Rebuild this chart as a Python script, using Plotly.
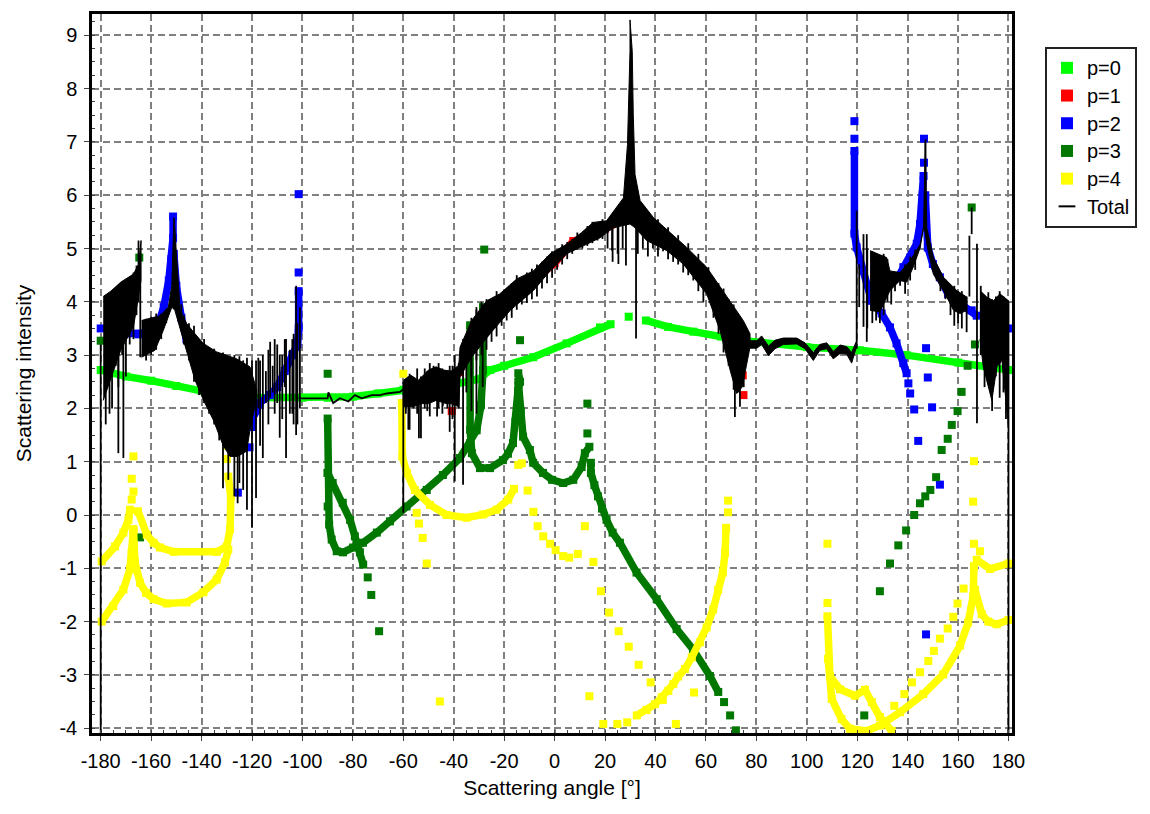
import plotly.graph_objects as go

# p=0
p0_x = [-180,-170,-160,-150,-140,-132,-120,-100,-90,-80,-70,-60,-50,-40,-30,-25.6,-20,-8.5,4.8,18,22.2,None,29.4,None,36.2,45,55,66,75,100,121,139.6,160,180]
p0_y = [2.72,2.6,2.52,2.42,2.33,2.25,2.2,2.2,2.2,2.22,2.28,2.35,2.4,2.45,2.55,2.72,2.8,2.96,3.22,3.52,3.58,None,3.72,None,3.65,3.53,3.44,3.35,3.27,3.15,3.09,3.0,2.86,2.72]
# p=1
p1_x = [-40.8,None,-37.5,None,-34.5,-30,-20,-10,0,7.4,12.7,20,25,30,40,50,60,65,70,None,74.6,None,74.9]
p1_y = [1.95,None,2.68,None,3.03,3.55,3.95,4.35,4.72,5.14,5.21,5.37,5.5,5.6,5.32,4.92,4.38,3.95,3.2,None,2.62,None,2.25]
# p=2
p2_x = [-180,None,-175,-165,-160,-157,-155,-153,-152,-151.3,-151.3,None,-151,-150,-148,-146,-143,-139,None,-125.6,None,-121,None,-120,-119.6,-118,-117,-113,-110,-107,-104,-102,-101.5,-101.5,None,-101.5,None,-101.5,None,
        118.9,None,118.9,None,118.9,118.9,119.8,122.3,125.7,129.7,133,135.6,138.3,139.6,None,140.3,None,141,None,142.6,None,144.2,None,
        136.2,138.3,141,143.6,144.9,146,146.3,None,146.5,None,146.5,None,147,148,150,152.8,156,159.4,165.4,167.4,None,180,None,147.3,None,148,None,149.7,None,152.8,None,147.3]
p2_y = [3.5,None,3.39,3.39,3.42,3.6,3.9,4.4,4.8,5.2,5.6,None,4.9,4.3,3.7,3.3,3.0,2.7,None,0.42,None,1.27,None,1.65,1.83,1.97,2.1,2.25,2.4,2.7,3.0,3.2,3.5,4.2,None,4.55,None,6.02,None,
        7.39,None,7.06,None,6.83,5.28,5.02,4.58,4.02,3.78,3.52,3.22,2.85,2.66,None,2.47,None,2.28,None,1.98,None,1.39,None,
        4.46,4.65,4.83,5.09,5.46,6.0,6.36,None,6.61,None,7.06,None,6.0,5.02,4.71,4.46,4.15,4.02,3.84,3.74,None,3.5,None,3.13,None,2.58,None,2.02,None,0.57,None,-2.24]
# p=3
p3_x = [-90,None,-90,-90,-90,-89.4,-88.4,-86.4,-83.9,-79.9,-76,-70.5,-65.3,-58.7,-50.7,-44.3,-37.5,-33.5,-30.9,-29.2,-28.4,-28.4,None,
        -90,-88,-84,-81.1,-79.2,-77.2,-75.9,None,-74.1,None,-72.7,None,-69.6,None,
        -13.7,None,-14.4,-13.7,-14.5,-15.5,-16.5,-18.5,-20.5,-25.6,-29.6,-32.8,-33.5,-33.5,-33.5,None,
        -14.4,-13.4,-12.5,-9.8,-8.5,-4.6,-1,3.4,7.4,10.7,12,13.8,None,13,None,13,None,
        14.4,14.4,15.8,17.2,18.8,20.6,23,25.9,32.5,40.5,48.4,54.9,61.6,64.9,None,67.2,None,69.6,None,71.9,None,
        -27.9,None,-164.7,None,-180,None,-164.4,None,165.4,None,166.7,None,163.8,None,161.4,None,159.8,None,157.5,None,155.9,None,153.5,None,151.3,None,149,None,147,None,144.9,None,142.6,None,139.4,None,136.3,None,133,None,129,None,122.8]
p3_y = [2.65,None,1.81,0.79,0.16,-0.18,-0.46,-0.68,-0.7,-0.61,-0.52,-0.33,-0.12,0.16,0.47,0.75,1.07,1.35,1.59,2.06,2.72,3.9,None,
        0.79,0.6,0.23,-0.09,-0.4,-0.7,-0.93,None,-1.17,None,-1.5,None,-2.18,None,
        3.28,None,2.66,2.5,2.34,1.75,1.35,1.15,1.03,0.88,0.88,1.16,1.6,2.53,3.56,None,
        2.5,1.95,1.47,1.22,0.98,0.79,0.66,0.6,0.66,0.9,1.16,1.28,None,1.53,None,2.09,None,
        0.98,0.79,0.56,0.35,0.12,-0.09,-0.33,-0.52,-1.08,-1.58,-2.14,-2.52,-3.02,-3.32,None,-3.51,None,-3.76,None,-4.04,None,
        4.98,None,4.83,None,3.27,None,-0.42,None,5.77,None,3.2,None,2.8,None,2.31,None,1.95,None,1.69,None,1.43,None,1.22,None,0.71,None,0.47,None,0.35,None,0.22,None,0,None,-0.29,None,-0.57,None,-0.91,None,-1.43,None,-3.76]
# p=4
p4_x = [-167,None,-167.7,None,-167,None,-167.7,None,-179.6,-174.3,-171,-169,-168.4,None,-165.2,-161.7,-159,-156.5,-151,-134,-130,-128.7,-128.4,-129.4,None,-130,None,-130,None,-130,None,
        -179.6,-175,-171,-168.4,-167.7,-167,None,-167,-166.4,-164.4,-162,-159,-153.8,-145.9,-139.3,-134,-130.7,-129.4,None,
        -60,None,-60.6,-60.4,-58.6,-55.4,-49.4,-42.8,-34.9,-28.3,-23,-18.4,-16.1,None,-14.4,None,-13,None,-10.7,None,-8.4,None,-6.7,None,-4.5,None,-1.8,None,0.4,None,3.4,None,5.8,None,9.2,None,12,None,15.4,None,18.4,None,21.6,None,25.4,None,29.4,None,33.3,None,38.1,None,42.9,None,13.8,None,48.1,None,55.3,None,-45.5,None,-54.7,None,-53.8,None,-52.3,None,-50.7,None,
        19.3,None,24.9,None,28.8,None,32.6,36.5,39.8,42.5,45.1,47.1,49,51.7,54.4,57.7,60.3,62.9,64.9,66.7,67.6,68,None,68.8,None,68.8,None,
        108.2,None,108.2,None,108.2,108.5,109.2,113.2,119.1,123.1,125.8,129,133.7,None,108.5,109.9,113.8,117.1,123.8,129,137,146.2,154.1,160.8,164,166,166.3,None,166.7,169.4,172,175.3,180,None,167.4,172.7,180,None,
        166.3,None,168.7,None,166,None,166.3,None,162.2,None,159.8,None,158.1,None,155.9,None,152.8,None,150.4,None,148.2,None,144.9,None,141.7,None,138.7,None,134.7]
p4_y = [1.1,None,0.68,None,0.44,None,0.29,None,-0.87,-0.59,-0.33,-0.09,0.1,None,0.07,-0.37,-0.52,-0.61,-0.69,-0.69,-0.59,-0.27,0.35,0.72,None,1.05,None,1.3,None,1.6,None,
        -2.0,-1.71,-1.4,-1.02,-0.7,-0.27,None,-0.27,-0.89,-1.27,-1.46,-1.58,-1.66,-1.64,-1.45,-1.21,-0.89,-0.65,None,
        2.65,None,2.1,1.1,0.79,0.47,0.19,0.0,-0.05,0.01,0.1,0.29,0.49,None,0.94,None,0.97,None,0.46,None,0.06,None,-0.21,None,-0.4,None,-0.54,None,-0.66,None,-0.77,None,-0.8,None,-0.73,None,-0.21,None,-0.88,None,-1.43,None,-1.83,None,-2.18,None,-2.47,None,-2.81,None,-3.14,None,-3.47,None,-3.4,None,-3.92,None,-3.33,None,-3.5,None,0.04,None,-0.16,None,-0.43,None,-0.91,None,
        -3.92,None,-3.92,None,-3.89,None,-3.76,-3.66,-3.55,-3.42,-3.3,-3.17,-3.03,-2.89,-2.67,-2.39,-2.11,-1.77,-1.4,-1.08,-0.71,-0.24,None,0.05,None,0.27,None,
        -0.54,None,-1.65,None,-1.9,-2.7,-3.02,-3.27,-3.39,-3.28,-3.51,-3.79,-4.05,None,-2.7,-3.45,-3.83,-4.01,-4.05,-3.95,-3.7,-3.36,-2.99,-2.45,-2.02,-1.52,-0.96,None,-1.4,-1.86,-2.0,-2.05,-1.97,None,-0.84,-1.01,-0.91,None,
        -0.54,None,-0.68,None,0.25,None,1.01,None,-1.38,None,-1.66,None,-1.91,None,-2.13,None,-2.32,None,-2.55,None,-2.74,None,-2.95,None,-3.14,None,-3.36,None,-3.58]

# Total: outline of the dense black region, section by section (upper edge, lower edge)
sec_a_ux = [-179,-176,-172,-167,-165,-164]
sec_a_uy = [4.1,4.2,4.37,4.52,4.7,5.15]
sec_a_lx = [-179,-172,-167,-164]
sec_a_ly = [2.15,3.1,3.53,4.4]

sec_b_ux = [-163.8,-156.4,-153.2,-151.8,-151,-150.9,-148.5,-145.9,-142.6,-139.3,-134,-126.1,-120.8,-118.1]
sec_b_uy = [3.65,3.74,3.9,4.3,5.58,5.58,3.84,3.59,3.4,3.22,3.06,2.93,2.78,2.34]
sec_b_lx = [-163.8,-158.5,-155.2,-151.8,-150.6,-145.9,-142.6,-139.3,-135.3,-131.4,-128.7,-125.7,-122.1,-120.8,-118.1]
sec_b_ly = [2.96,3.09,3.46,3.9,3.84,3.09,2.53,2.16,1.78,1.3,1.1,1.1,1.2,1.6,2.2]

sec_c_ux = [-60,-57,-54,-50,-47,-44,-41,-38,-37.5,-32.9,-26.9,-21.7,-15,-8.4,-1.8,4.8,10.7,15.3,20.6,24.6,27.3,28.9,29.3,29.9,29.9,30.8,31.2,31.9,33.9,39.2,45.8,52.4,60.3,69.3,74.8,77.5]
sec_c_uy = [2.53,2.62,2.53,2.72,2.78,2.72,2.7,2.81,3.15,3.65,4.02,4.15,4.43,4.58,4.9,5.08,5.3,5.49,5.52,5.77,5.95,6.95,7.51,8.7,9.29,8.7,7.51,6.39,5.9,5.58,5.3,5.02,4.65,4.03,3.65,3.4]
sec_c_lx = [-60,-56,-53,-50,-47,-43,-41,-38,-37.5,-32.9,-25.6,-17.6,-8.4,-1.8,4.8,12.7,18,23.3,29.9,31.9,36.5,44.5,51,60.3,65.6,69.6,72.2,74.4,77.5]
sec_c_ly = [2.03,2.03,2.09,2.09,2.15,2.09,2.09,2.03,2.59,2.96,3.4,3.84,4.21,4.58,4.9,5.08,5.2,5.39,5.46,5.39,5.15,4.96,4.71,4.15,3.46,2.72,2.28,2.4,3.15]

sec_d_ux = [77.5,80.2,82.1,84.8,87.4,90.7,96,99.3,102.6,105.2,107.9,110.5,113.2,115.8,117.8,119.5]
sec_d_uy = [3.27,3.27,3.36,3.17,3.28,3.32,3.32,3.23,3.05,3.2,3.23,3.07,3.19,3.16,3.05,3.24]
sec_d_lx = sec_d_ux
sec_d_ly = [3.13,3.13,3.2,2.99,3.12,3.2,3.21,3.12,2.9,3.09,3.12,2.93,3.03,3.02,2.85,3.12]

sec_e_ux = [125.1,131.7,133,137,141,145,146.3,147,147.6,150.2,154.2,159.5,163.4]
sec_e_uy = [4.96,4.83,4.58,4.55,4.77,5.08,5.39,7.01,5.39,4.83,4.46,4.21,4.09]
sec_e_lx = [125.1,129,131,133,137,139.6,142.2,145,146.5,147.6,150.2,154.2,158.2,160.8,163.4]
sec_e_ly = [3.84,3.81,4.02,4.21,4.4,4.37,4.65,5.02,5.46,5.08,4.52,4.21,3.84,3.78,3.84]

sec_f_ux = [168.7,171.4,174,176.6,180]
sec_f_uy = [4.21,4.09,4.02,4.15,4.02]
sec_f_lx = [168.7,170,173.4,175.4,177.4,180]
sec_f_ly = [3.3,2.78,2.15,2.78,2.9,1.66]

# Total: jagged fringe of short vertical swings along the black region
fringe_x  = [-178,-177,-175.5,-174,-173,-171.5,-170,-168.5,-167,-165.8,
             -162,-160,-158,-156,-154,-148,-147,-145,-143,-141,-139,-137,-135,-133,-131.5,-127,-125,-122,-116.8,
             -117.5,-114.5,-113.5,-111.8,-110,-108,-107,-105,-103.5,-102,-101,
             -59,-57.5,-56,-54.5,-53,-51.5,-49.5,-48,-46,-44.5,-42.5,-40.5,-38,
             -35,-33,-31,-29,-27,-25,-23,-21,-19,-17,-15,-13,-11,-9,-7,-5,-3,-1,1,3,5,7,9,11,13,15,17,19,21,23,25,27,
             33,35,37,39,41,43,45,47,49,51,53,55,57,59,61,63,65,67,69,71,73,75,
             120.8,124,126,127.5,129,130.5,132,133.5,135,137,139,141,143,151.5,153,155,157,158.5,160,161.5,
             169,170.5,172,173.5,175,176.5,178,179]
fringe_lo = [1.7,2.5,2.0,2.8,2.4,3.0,2.6,3.2,3.3,3.75,
             2.9,3.0,3.1,3.3,3.6,3.55,3.2,2.9,2.5,2.25,2.1,1.9,1.7,1.4,0.5,0.35,0.6,0.1,1.3,
             2.0,2.1,1.7,2.3,2.1,1.8,2.4,1.9,1.7,1.7,2.0,
             1.9,1.6,2.0,1.9,1.44,2.0,1.85,2.2,2.0,1.9,2.0,1.8,2.0,
             2.3,2.6,2.9,3.0,3.1,3.25,3.35,3.55,3.65,3.7,3.85,3.95,3.98,4.05,4.1,4.25,4.35,4.45,4.6,4.7,4.8,4.9,4.98,5.0,5.05,5.1,5.15,5.18,5.0,4.75,4.9,5.0,
             4.9,5.0,4.85,5.0,4.85,4.95,4.8,4.75,4.7,4.55,4.5,4.4,4.2,4.0,4.15,3.7,3.4,3.05,2.8,2.35,2.3,2.4,
             3.9,3.5,3.6,3.65,3.6,3.75,4.0,3.95,4.2,4.3,4.15,4.4,4.6,4.4,4.2,4.05,3.75,3.55,3.6,3.5,
             3.0,2.4,2.45,1.95,2.6,2.2,2.3,1.8]
fringe_hi = [4.05,4.15,4.12,4.22,4.2,4.35,4.34,4.42,4.55,4.68,
             3.68,3.72,3.78,3.78,3.85,3.95,3.75,3.6,3.55,3.3,3.3,3.15,3.12,3.0,3.05,3.0,2.98,2.95,2.9,
             2.95,2.7,3.1,2.8,3.2,3.0,3.3,3.1,3.4,3.6,3.9,
             2.55,2.65,2.5,2.75,2.6,2.75,2.85,2.8,2.85,2.75,2.7,2.8,2.85,
             3.3,3.7,3.85,4.0,4.05,4.0,4.2,4.1,4.25,4.35,4.5,4.45,4.55,4.62,4.7,4.75,4.85,4.95,4.98,5.08,5.12,5.18,5.3,5.28,5.42,5.5,5.45,5.55,5.5,5.6,5.7,5.9,
             5.95,5.75,5.7,5.55,5.55,5.35,5.4,5.2,5.25,5.05,5.1,4.85,4.9,4.7,4.65,4.45,4.35,4.25,4.05,3.95,3.75,3.55,
             4.7,5.0,4.95,4.9,4.85,4.9,4.8,4.5,4.5,4.52,4.7,4.85,4.98,4.7,4.55,4.42,4.25,4.3,4.2,4.2,
             4.3,4.1,4.18,4.05,4.1,4.2,4.1,4.05]

# Total: thin stretch and isolated spikes
thin_x = [-101.5,-90,-89.7,-87.8,-85.1,-81.8,-79.2,-76.5,-72.5,-69.2,-66.6,-61.3,-60]
thin_y = [2.19,2.19,2.3,2.1,2.19,2.13,2.25,2.19,2.25,2.25,2.28,2.31,2.36]
spike_x  = [-180,-176.5,-173,-171,-164.3,-129.4,-125.7,-123.5,-120,-118.4,-115.7,-112.8,-111,-109,-106.5,-104,-102.5,-60,-58,-53.8,-50.5,-46.6,-44.3,-41.6,-39.6,-36.3,-33,-31,-28.5,22.8,25.3,28.3,32.3,71.5,73.5,119.8,122.5,123.8,163.4,164.5,165.4,167.5,180,147.1,-165]
spike_lo = [-4.1,1.9,1.16,1.07,2.96,0.66,0.22,0.47,-0.24,0.32,1.07,2.2,1.9,1.45,1.07,1.9,1.5,0.04,1.6,1.44,1.95,1.85,2.05,1.56,0.63,0.57,1.95,1.9,2.4,4.96,4.71,4.68,3.31,1.84,2.03,3.12,3.53,3.25,3.43,4.1,5.27,1.72,-4.1,5.3,4.0]
spike_hi = [3.2,4.0,4.0,4.1,4.4,2.5,2.9,2.9,2.9,2.9,3.0,3.25,3.3,3.0,3.3,3.3,4.3,2.5,2.6,2.5,2.7,2.7,2.7,2.8,3.0,3.3,3.6,3.9,3.95,5.4,5.5,5.6,5.4,3.4,3.2,5.71,5.27,5.27,4.1,5.24,5.77,5.09,4.0,7.05,5.15]

x_ticks = list(range(-180, 181, 20))
y_ticks = list(range(-4, 10))
series_names = ["p=0", "p=1", "p=2", "p=3", "p=4"]
series_colors = ["#00FF00", "#FF0000", "#0000FF", "#007800", "#FFFF00"]
series_x = [p0_x, p1_x, p2_x, p3_x, p4_x]
series_y = [p0_y, p1_y, p2_y, p3_y, p4_y]
FS = 20

fig = go.Figure()
for name, color, xs, ys in zip(series_names, series_colors, series_x, series_y):
    fig.add_trace(go.Scatter(x=xs, y=ys, mode="lines", line=dict(color=color, width=7.5), showlegend=False, hoverinfo="skip"))
    fig.add_trace(go.Scatter(x=xs, y=ys, mode="markers", name=f'<span style="font-size:{FS}px">{name}</span>',
                             marker=dict(color=color, size=8, symbol="square")))

band_x, band_y = [], []
for ux, uy, lx, ly in [(sec_a_ux, sec_a_uy, sec_a_lx, sec_a_ly), (sec_b_ux, sec_b_uy, sec_b_lx, sec_b_ly),
                       (sec_c_ux, sec_c_uy, sec_c_lx, sec_c_ly), (sec_d_ux, sec_d_uy, sec_d_lx, sec_d_ly),
                       (sec_e_ux, sec_e_uy, sec_e_lx, sec_e_ly), (sec_f_ux, sec_f_uy, sec_f_lx, sec_f_ly)]:
    band_x += ux + lx[::-1] + [None]
    band_y += uy + ly[::-1] + [None]
fig.add_trace(go.Scatter(x=band_x, y=band_y, mode="lines", fill="toself", fillcolor="#000000",
                         line=dict(color="#000000", width=1), showlegend=False, hoverinfo="skip"))
lines_x = list(thin_x) + [None]
lines_y = list(thin_y) + [None]
for sx, lo, hi in zip(spike_x + fringe_x, spike_lo + fringe_lo, spike_hi + fringe_hi):
    lines_x += [sx, sx, None]
    lines_y += [lo, hi, None]
fig.add_trace(go.Scatter(x=lines_x, y=lines_y, mode="lines", line=dict(color="#000000", width=1.8),
                         showlegend=False, hoverinfo="skip"))
fig.add_trace(go.Scatter(x=[None], y=[None], mode="markers", name=f'<span style="font-size:{FS}px">Total</span>',
                         marker=dict(symbol="line-ew", size=15, line=dict(color="#000000", width=1.6))))

grid = dict(showgrid=True, gridcolor="#808080", gridwidth=1.5, griddash="7px,4px", zeroline=False,
            showline=True, linecolor="#000000", linewidth=2.5, mirror=True,
            ticks="outside", ticklen=5, tickwidth=1, tickcolor="#444444")
fig.update_layout(
    width=1150, height=814, margin=dict(l=84, r=146, t=3, b=89),
    paper_bgcolor="#FFFFFF", plot_bgcolor="#FFFFFF",
    font=dict(family="Liberation Sans", size=FS, color="#000000"),
    xaxis=dict(range=[-183.45, 181.39], tickmode="array", tickvals=x_ticks, ticktext=[str(v) for v in x_ticks],
               ticklabelstandoff=3,
               title=dict(text="Scattering angle [°]", font=dict(size=21), standoff=10),
               minor=dict(dtick=5, ticks="inside", ticklen=3, tickcolor="#444444", showgrid=False), **grid),
    yaxis=dict(range=[-4.09, 9.4], tickmode="array", tickvals=y_ticks, ticktext=[str(v) for v in y_ticks],
               ticklabelstandoff=3,
               title=dict(text="Scattering intensity", font=dict(size=21), standoff=23),
               minor=dict(dtick=0.25, ticks="inside", ticklen=3, tickcolor="#444444", showgrid=False), **grid),
    legend=dict(x=1037/1150, y=1-39/814, xref="container", yref="container", xanchor="left", yanchor="top",
                bordercolor="#222222", borderwidth=2, bgcolor="#FFFFFF", font=dict(size=19),
                itemsizing="constant", tracegroupgap=0),
)
fig.write_html("out.html")
